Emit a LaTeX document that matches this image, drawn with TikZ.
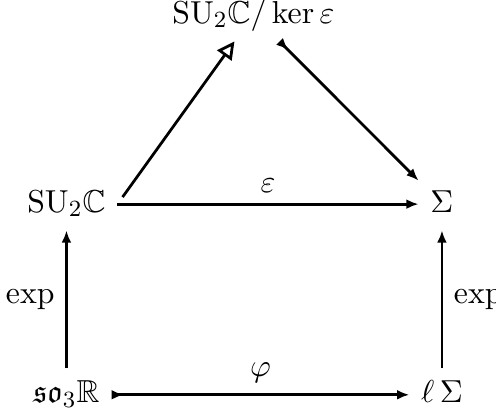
\documentclass[tikz,border=0pt,11pt]{standalone}
\usepackage{amssymb}
\usetikzlibrary{arrows.meta}

\begin{document}
\begin{tikzpicture}[>={Latex[length=4.2pt,width=3.4pt]}, line width=0.95pt,
    obj/.style={anchor=base, text height=7.7pt, text depth=2.2pt}]
    % 図の大きさ (余白込み)
    \useasboundingbox (0,0) rectangle (6.01,4.99);

    % 行と列の位置
    \def\yTop{4.71}
    \def\yMid{2.42}
    \def\yBot{0.11}
    \def\xL{0.805}
    \def\xR{5.355}

    % -------------------------------------------------------------
    % 対象
    % -------------------------------------------------------------
    \node[obj] (quot) at (3.07, \yTop) {$\mathrm{SU}_2\mathbb{C}/\ker\varepsilon$};
    \node[obj] (su)   at (\xL, \yMid) {$\mathrm{SU}_2\mathbb{C}$};
    \node[obj] (sig)  at (\xR, \yMid) {$\Sigma$};
    \node[obj] (so)   at (\xL, \yBot) {$\mathfrak{so}_3\mathbb{R}$};
    \node[obj] (ls)   at (\xR, \yBot) {$\ell\,\Sigma$};

    % -------------------------------------------------------------
    % 射
    % -------------------------------------------------------------
    \draw[->] (su) -- node[above] {$\varepsilon$} (sig);
    \draw[->] (so) -- node[left] {$\exp$} (su);
    \draw[->] (ls) -- node[right] {$\exp$} (sig);
    \draw[>->] (so) -- node[above] {$\varphi$} (ls);

    % 商への射影と誘導される射
    \draw[-{Triangle[open,length=6pt,width=6pt]}, shorten <=3pt] (su.east) -- (quot);
    \draw[>->] (quot) -- (sig);
\end{tikzpicture}
\end{document}
